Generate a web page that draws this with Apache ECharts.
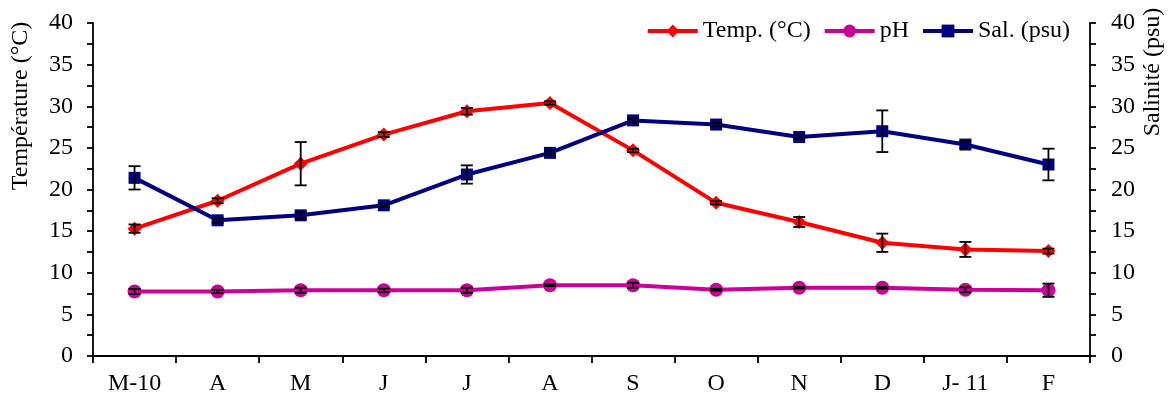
<!DOCTYPE html>
<html><head><meta charset="utf-8">
<script src="https://cdn.jsdelivr.net/npm/echarts@6/dist/echarts.min.js"></script>
<style>html,body{margin:0;padding:0;background:#fff}#c{width:1168px;height:406px}</style>
</head><body><div id="c"></div>
<script>
const categories = ['M-10','A','M','J','J','A','S','O','N','D','J- 11','F'];
const tempValues = [15.3, 18.65, 23.1, 26.6, 29.4, 30.4, 24.7, 18.4, 16.1, 13.6, 12.8, 12.6];
const tempErr    = [0.5, 0.3, 2.6, 0.3, 0.4, 0.2, 0.2, 0.2, 0.6, 1.1, 0.9, 0.3];
const phValues   = [7.75, 7.75, 7.9, 7.9, 7.9, 8.5, 8.5, 7.95, 8.2, 8.2, 7.95, 7.9];
const phErr      = [0.3, 0.2, 0.3, 0.2, 0.3, 0.1, 0.3, 0.1, 0.1, 0.1, 0.3, 0.8];
const salValues  = [21.4, 16.3, 16.9, 18.1, 21.8, 24.4, 28.3, 27.8, 26.3, 27.0, 25.4, 23.0];
const salErr     = [1.4, 0.3, 0.4, 0.2, 1.1, 0.2, 0.2, 0.2, 0.2, 2.5, 0.4, 1.9];
const yTickLabels = ['0','5','10','15','20','25','30','35','40'];

const FONT = 'Liberation Serif';
const chart = echarts.init(document.getElementById('c'), null, {renderer:'canvas'});

function errData(vals, errs){
  return vals.map((v,i)=>[i, v-errs[i], v+errs[i]]);
}
function errSeries(name, vals, errs){
  return {
    type:'custom', name: name+'_err', yAxisIndex:0, z:5, silent:true,
    data: errData(vals, errs),
    renderItem: function(params, api){
      const x = api.value(0);
      const lo = api.coord([x, api.value(1)]);
      const hi = api.coord([x, api.value(2)]);
      const hw = 6;
      const st = {stroke:'#000', lineWidth:1.8};
      return {type:'group', children:[
        {type:'line', shape:{x1:lo[0],y1:lo[1],x2:hi[0],y2:hi[1]}, style:st},
        {type:'line', shape:{x1:lo[0]-hw,y1:lo[1],x2:lo[0]+hw,y2:lo[1]}, style:st},
        {type:'line', shape:{x1:hi[0]-hw,y1:hi[1],x2:hi[0]+hw,y2:hi[1]}, style:st}
      ]};
    }
  };
}
const yLabelFmt = v => (Math.abs(v/5 - Math.round(v/5))<1e-6) ? yTickLabels[Math.round(v/5)] : '';
const axisLine = {show:true, lineStyle:{color:'#000', width:1.8}};
const yAxisCommon = {
  type:'value', min:0, max:40, interval:2.5,
  axisLine: axisLine,
  axisTick:{show:true, inside:false, length:6, lineStyle:{color:'#000', width:1.8}},
  splitLine:{show:false},
  axisLabel:{formatter:yLabelFmt, color:'#000', fontFamily:FONT, fontSize:24, margin:20}
};

chart.setOption({
  animation:false,
  grid:{left:93, right:78, top:23, bottom:50, containLabel:false},
  legend:{
    right:93, top:14, itemWidth:50, itemHeight:16, itemGap:12,
    lineStyle:{width:4},
    textStyle:{fontFamily:FONT, fontSize:24, color:'#000'},
    data:['Temp. (°C)','pH','Sal. (psu)']
  },
  xAxis:{
    type:'category', data:categories, boundaryGap:true,
    axisLine: axisLine,
    axisTick:{show:true, inside:false, length:7, alignWithLabel:false, interval:0, lineStyle:{color:'#000', width:1.8}},
    axisLabel:{color:'#000', fontFamily:FONT, fontSize:24, margin:16, interval:0}
  },
  yAxis:[
    Object.assign({}, yAxisCommon, {position:'left'}),
    Object.assign({}, yAxisCommon, {position:'right', axisLabel:Object.assign({}, yAxisCommon.axisLabel, {margin:21})})
  ],
  graphic:[
    {type:'text', x:21, y:106, rotation:Math.PI/2, style:{text:'Température (°C)', fontFamily:FONT, fontSize:24, fill:'#000', align:'center', verticalAlign:'middle'}},
    {type:'text', x:1153, y:72, rotation:Math.PI/2, style:{text:'Salinité (psu)', fontFamily:FONT, fontSize:24, fill:'#000', align:'center', verticalAlign:'middle'}}
  ],
  series:[
    {name:'Temp. (°C)', type:'line', yAxisIndex:0, data:tempValues, z:3,
      symbol:'diamond', symbolSize:14, itemStyle:{color:'#FF0000'}, lineStyle:{color:'#FF0000', width:4}},
    {name:'pH', type:'line', yAxisIndex:0, data:phValues, z:3,
      symbol:'circle', symbolSize:14, itemStyle:{color:'#CC0099'}, lineStyle:{color:'#CC0099', width:4}},
    {name:'Sal. (psu)', type:'line', yAxisIndex:1, data:salValues, z:3,
      symbol:'rect', symbolSize:12, itemStyle:{color:'#000080'}, lineStyle:{color:'#000080', width:4}},
    errSeries('temp', tempValues, tempErr),
    errSeries('ph', phValues, phErr),
    errSeries('sal', salValues, salErr)
  ]
});
</script></body></html>
